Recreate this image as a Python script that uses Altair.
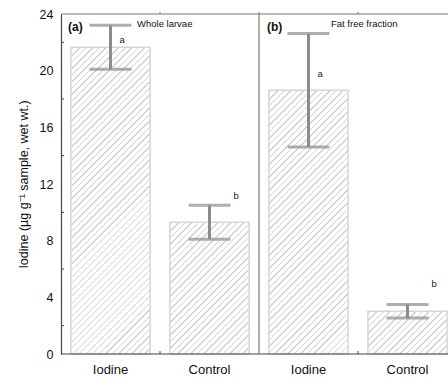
import math

import altair as alt
import pandas as pd

# Iodine content of larvae: two panels, iodine-fed vs control
panels = ["a", "a", "b", "b"]
groups = ["Iodine", "Control", "Iodine", "Control"]
means = [21.65, 9.3, 18.62, 3.02]
errors = [1.55, 1.2, 4.0, 0.48]
letters = ["a", "b", "a", "b"]
letter_y = [22.2, 11.15, 19.8, 4.95]
panel_tags = ["(a)", "(b)"]
panel_names = ["Whole larvae", "Fat free fraction"]
y_labels = [0, 4, 8, 12, 16, 20, 24]
y_minor = [2, 6, 10, 14, 18, 22]

# layout of the plot area
W, H = 387, 340
Y_MAX = 24
STEP = 99
N = len(groups)
PAD_IN, PAD_OUT = 0.2, 0.1
SPAN = N - PAD_IN + 2 * PAD_OUT          # in steps
RANGE = STEP * SPAN
BAND = STEP * (1 - PAD_IN)

FONT = "Liberation Sans"
AXIS = "#444444"
FRAME = "#777777"
ERR = "#8c8c8c"
HATCH = "#d2d2d2"
EDGE = "#d6d6d6"

keys = [f"{p}|{g}" for p, g in zip(panels, groups)]
df = pd.DataFrame({
    "key": keys,
    "mean": means,
    "lo": [m - e for m, e in zip(means, errors)],
    "hi": [m + e for m, e in zip(means, errors)],
    "letter": letters,
    "ly": letter_y,
})

x_band = alt.X(
    "key:N",
    sort=keys,
    scale=alt.Scale(range=[0, RANGE], paddingInner=PAD_IN, paddingOuter=PAD_OUT),
    axis=alt.Axis(
        title=None,
        labelExpr="split(datum.label, '|')[1]",
        labelAngle=0,
        labelFontSize=13,
        labelColor="#111111",
        labelPadding=9,
        domain=False,
        ticks=False,
        grid=False,
    ),
)
y_scale = alt.Scale(domain=[0, Y_MAX], nice=False, zero=True)


def hatch(w, h, period=4.6, lw=1.0, theta=45.0):
    """Diagonal '/' hatching as a hard-stop linear gradient in bbox units."""
    t = math.radians(theta)
    sn, cs = math.sin(t), math.cos(t)
    d = w * sn + h * cs
    s = (w * w * sn * sn + h * h * cs * cs) / d
    stops = [alt.GradientStop(color="white", offset=0)]
    k = 0
    while True:
        a = (k * period + 1.5) / d
        b = (k * period + 1.5 + lw) / d
        if b >= 1:
            break
        stops += [
            alt.GradientStop(color="white", offset=a),
            alt.GradientStop(color=HATCH, offset=a),
            alt.GradientStop(color=HATCH, offset=b),
            alt.GradientStop(color="white", offset=b),
        ]
        k += 1
    stops.append(alt.GradientStop(color="white", offset=1))
    return alt.LinearGradient(
        gradient="linear", stops=stops,
        x1=0, y1=0, x2=w * sn / s, y2=h * cs / s,
    )


base = alt.Chart(df)

# one layer per bar so each gets its own hatching
bars = []
for k, m in zip(keys, means):
    bars.append(
        base.transform_filter(alt.datum.key == k)
        .mark_bar(fill=hatch(BAND, m * H / Y_MAX), stroke=EDGE, strokeWidth=1.5)
        .encode(
            x=x_band,
            y=alt.Y(
                "mean:Q",
                scale=y_scale,
                axis=alt.Axis(
                    title="Iodine (µg g\u207b\u00b9 sample, wet wt.)",
                    titleFontSize=12.5,
                    titleFontWeight="normal",
                    titleColor="#111111",
                    titlePadding=9,
                    values=y_labels,
                    labelFontSize=12.5,
                    labelColor="#111111",
                    labelPadding=8,
                    ticks=False,
                    grid=False,
                    domain=True,
                    domainColor=AXIS,
                    domainWidth=1.2,
                ),
            ),
        )
    )

err_line = base.mark_rule(color=ERR, strokeWidth=3).encode(
    x=x_band, y=alt.Y("lo:Q", scale=y_scale), y2="hi:Q"
)
cap_hi = base.mark_tick(color=ERR, thickness=3, size=42).encode(
    x=x_band, y=alt.Y("hi:Q", scale=y_scale)
)
cap_lo = base.mark_tick(color=ERR, thickness=3, size=42).encode(
    x=x_band, y=alt.Y("lo:Q", scale=y_scale)
)

letter_a = base.transform_filter(alt.datum.letter == "a").mark_text(
    align="left", baseline="middle", dx=9, fontSize=9.5, font=FONT, color="#222222"
).encode(x=x_band, y=alt.Y("ly:Q", scale=y_scale), text="letter:N")
letter_b = base.transform_filter(alt.datum.letter == "b").mark_text(
    align="left", baseline="middle", dx=24, fontSize=9.5, font=FONT, color="#222222"
).encode(x=x_band, y=alt.Y("ly:Q", scale=y_scale), text="letter:N")

data_layer = alt.layer(*bars, err_line, cap_hi, cap_lo, letter_a, letter_b)

# frame: top line, panel divider and small ticks on a step-unit scale
x_steps = alt.Scale(domain=[0, SPAN], range=[0, RANGE], nice=False, zero=False)
top_line = alt.Chart(pd.DataFrame({"pos": [0, SPAN], "val": [Y_MAX, Y_MAX]})).mark_line(
    color=FRAME, strokeWidth=1.2
).encode(
    x=alt.X("pos:Q", scale=x_steps, axis=None),
    y=alt.Y("val:Q", scale=y_scale),
)
bottom_line = alt.Chart(pd.DataFrame({"pos": [0, SPAN], "val": [0, 0]})).mark_line(
    color=AXIS, strokeWidth=1.2
).encode(
    x=alt.X("pos:Q", scale=x_steps, axis=None),
    y=alt.Y("val:Q", scale=y_scale),
)
divider = alt.Chart(pd.DataFrame({"pos": [2]})).mark_rule(
    color=FRAME, strokeWidth=1.2
).encode(
    x=alt.X("pos:Q", scale=x_steps, axis=None),
    y=alt.datum(0, scale=y_scale),
    y2=alt.datum(Y_MAX),
)
bottom_ticks = alt.Chart(pd.DataFrame({"pos": [1, 3]})).mark_rule(
    color=AXIS, strokeWidth=1
).encode(
    x=alt.X("pos:Q", scale=x_steps, axis=None),
    y=alt.value(H),
    y2=alt.value(H - 3),
)
top_ticks = alt.Chart(pd.DataFrame({"pos": [1, 2, 3]})).mark_rule(
    color=FRAME, strokeWidth=1
).encode(
    x=alt.X("pos:Q", scale=x_steps, axis=None),
    y=alt.value(0),
    y2=alt.value(-2),
)
minor_y = alt.Chart(pd.DataFrame({"v": y_minor})).mark_rule(
    color=AXIS, strokeWidth=1
).encode(
    x=alt.value(0),
    x2=alt.value(3),
    y=alt.Y("v:Q", scale=y_scale),
)

# panel headings
tag_x = [7, 206]
name_x = [76, 270]
headings = []
for tag, name, tx, nx in zip(panel_tags, panel_names, tag_x, name_x):
    headings.append(
        alt.Chart(pd.DataFrame({"t": [tag]})).mark_text(
            align="left", baseline="middle", fontSize=12, fontWeight="bold",
            font=FONT, color="#111111",
        ).encode(x=alt.value(tx), y=alt.value(13), text="t:N")
    )
    headings.append(
        alt.Chart(pd.DataFrame({"t": [name]})).mark_text(
            align="left", baseline="middle", fontSize=9.5, font=FONT, color="#111111",
        ).encode(x=alt.value(nx), y=alt.value(10), text="t:N")
    )

frame_layer = alt.layer(top_line, bottom_line, divider, bottom_ticks, top_ticks, minor_y)

chart = (
    alt.layer(data_layer, frame_layer, *headings)
    .resolve_scale(x="independent")
    .properties(
        width=W,
        height=H,
        autosize=alt.AutoSizeParams(type="none"),
        padding={"left": 61, "top": 14, "right": 0, "bottom": 25},
    )
    .configure(font=FONT)
    .configure_view(stroke=None)
)

chart.save("out.html", embed_options={"renderer": "svg", "actions": False})
